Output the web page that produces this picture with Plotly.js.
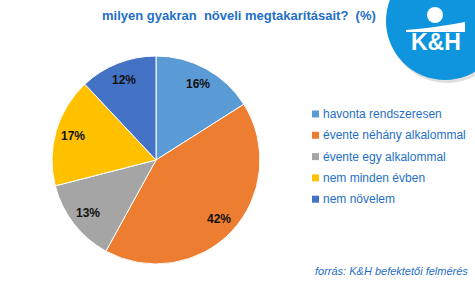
<!DOCTYPE html>
<html><head><meta charset="utf-8">
<script src="https://cdn.plot.ly/plotly-3.0.1.min.js"></script>
<style>html,body{margin:0;padding:0;background:#fff}#c{width:475px;height:287px}</style>
</head><body><div id="c"></div>
<script>
const categories = ["havonta rendszeresen","évente néhány alkalommal","évente egy alkalommal","nem minden évben","nem növelem"];
const values = [16, 42, 13, 17, 12];
const colors = ["#5B9BD5","#ED7D31","#A5A5A5","#FFC000","#4472C4"];
const titleText = "milyen gyakran\u00a0 növeli megtakarításait?\u00a0 (%)";
const sourceText = "forrás: K&H befektetői felmérés";

const W = 475, H = 287;
const px = x => x / W, py = y => 1 - y / H;
const blue = "#1F6FC6";
const font = "Liberation Sans, Arial";
const cx = 156, cy = 160, r = 104;

const data = [{
  type: "pie",
  labels: categories,
  values: values,
  sort: false,
  direction: "clockwise",
  rotation: 0,
  marker: {colors: colors, line: {color: "#ffffff", width: 1}},
  textinfo: "none",
  hoverinfo: "none",
  domain: {x: [px(cx - r), px(cx + r)], y: [py(cy + r), py(cy - r)]}
}];

// slice labels placed at 0.83 of the radius, at each slice's mid angle
const total = values.reduce((a, b) => a + b, 0);
const labelAnns = [];
let cum = 0;
values.forEach(v => {
  const mid = (cum + v / 2) / total * 2 * Math.PI;
  cum += v;
  const lx = cx + 0.83 * r * Math.sin(mid), ly = cy - 0.83 * r * Math.cos(mid);
  labelAnns.push({text: "<b>" + v + "%</b>", xref: "paper", yref: "paper", x: px(lx), y: py(ly),
    xanchor: "center", yanchor: "middle", showarrow: false,
    font: {family: font, size: 12, color: "#111111"}});
});

// manual legend
const legShapes = [], legAnns = [];
categories.forEach((c, i) => {
  const yc = 114 + i * 21.3;
  legShapes.push({type: "rect", xref: "paper", yref: "paper", x0: px(312), x1: px(319), y0: py(yc + 3.5), y1: py(yc - 3.5),
    fillcolor: colors[i], line: {width: 0}});
  legAnns.push({text: c, xref: "paper", yref: "paper", x: px(321), y: py(yc), xanchor: "left", yanchor: "middle",
    showarrow: false, font: {family: font, size: 12, color: blue}});
});

const layout = {
  width: W, height: H,
  margin: {l: 0, r: 0, t: 0, b: 0},
  paper_bgcolor: "#ffffff",
  showlegend: false,
  shapes: [
    {type: "circle", xref: "paper", yref: "paper", x0: px(388), x1: px(506), y0: py(83), y1: py(-35),
      fillcolor: "rgba(110,110,110,0.22)", line: {width: 0}},
    {type: "circle", xref: "paper", yref: "paper", x0: px(386), x1: px(504), y0: py(80), y1: py(-38),
      fillcolor: "#0E95DD", line: {width: 0}},
    {type: "circle", xref: "paper", yref: "paper", x0: px(427), x1: px(443), y0: py(23), y1: py(7),
      fillcolor: "#ffffff", line: {width: 0}},
    {type: "path", xref: "paper", yref: "paper",
      path: `M ${px(406)} ${py(32)} L ${px(406)} ${py(30)} Q ${px(440)} ${py(27)} ${px(465)} ${py(22)} L ${px(465)} ${py(32)} Z`,
      fillcolor: "#ffffff", line: {width: 0}}
  ].concat(legShapes),
  annotations: [
    {text: "<b>" + titleText + "</b>", xref: "paper", yref: "paper", x: px(100), y: py(16), xanchor: "left", yanchor: "middle",
      showarrow: false, font: {family: font, size: 13, color: blue}},
    {text: "<b>K&H</b>", xref: "paper", yref: "paper", x: px(436), y: py(42), xanchor: "center", yanchor: "middle",
      showarrow: false, font: {family: font, size: 23, color: "#ffffff"}},
    {text: "<i>" + sourceText + "</i>", xref: "paper", yref: "paper", x: px(470), y: py(271), xanchor: "right", yanchor: "middle",
      showarrow: false, font: {family: font, size: 11, color: blue}}
  ].concat(labelAnns, legAnns)
};
Plotly.newPlot("c", data, layout, {displayModeBar: false, staticPlot: true});
</script></body></html>
